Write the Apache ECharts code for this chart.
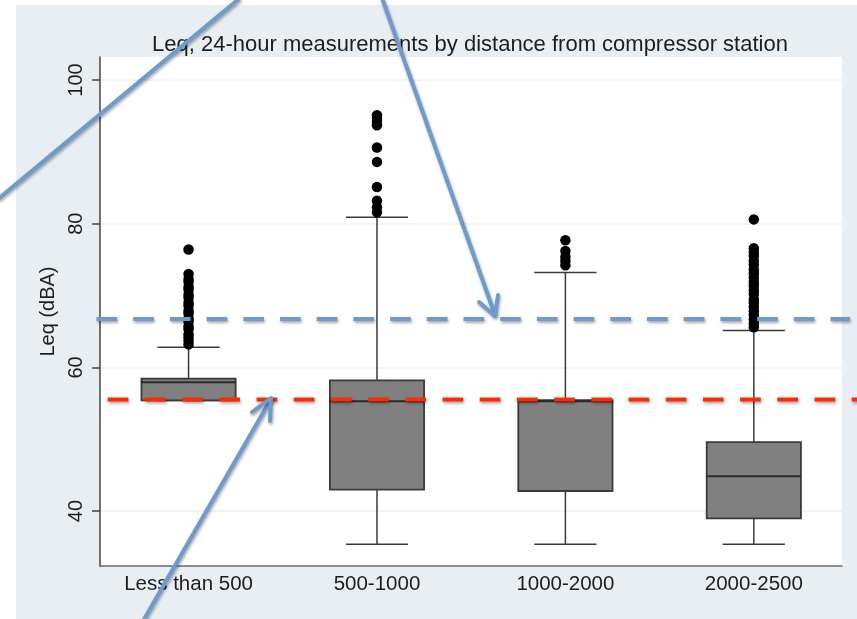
<!DOCTYPE html>
<html>
<head>
<meta charset="utf-8">
<script src="https://cdn.jsdelivr.net/npm/echarts@6/dist/echarts.min.js"></script>
<style>
  html, body { margin: 0; padding: 0; background: #ffffff; }
  #wrap { position: relative; width: 857px; height: 619px; overflow: hidden; }
  #bg { position: absolute; left: 16px; top: 5px; width: 841px; height: 614px; background: #e8eef1; }
  #chart { position: absolute; left: 0; top: 0; width: 857px; height: 619px; }
</style>
</head>
<body>
<div id="wrap"><div id="bg"></div><div id="chart"></div></div>
<script>
// ---- data ----
const categories = ['Less than 500', '500-1000', '1000-2000', '2000-2500'];
// [lower whisker, Q1, median, Q3, upper whisker]
const boxLess500   = [55.4, 55.4, 57.95, 58.45, 62.8];
const box500_1000  = [35.4, 43.0, 55.3, 58.2, 80.9];
const box1000_2000 = [35.4, 42.8, 55.3, 55.45, 73.2];
const box2000_2500 = [35.4, 39.0, 44.85, 49.6, 65.15];

const outLess500   = [76.4, 73.0, 72.3, 71.9, 71.2, 70.8, 70.1, 69.7, 69.0, 68.6, 67.9, 67.5, 66.8, 66.4, 65.7, 65.3, 64.6, 64.2, 63.7, 63.2];
const out500_1000  = [95.1, 94.7, 94.2, 93.7, 90.6, 88.6, 85.1, 83.2, 82.3, 81.6];
const out1000_2000 = [77.7, 76.2, 75.4, 74.8, 74.2];
const out2000_2500 = [80.6, 76.6, 76.0, 75.5, 74.8, 74.3, 73.6, 73.1, 72.5, 71.9, 71.4, 70.7, 70.2, 69.5, 69.0, 68.4, 67.8, 67.3, 66.7, 66.1, 65.6];

const yTicks = [40, 60, 80, 100];
const blueLevel = 66.75;
const redLevel = 55.55;

const titleText = 'Leq, 24-hour measurements by distance from compressor station';
const yName = 'Leq (dBA)';

// ---- build ----
const boxes = [boxLess500, box500_1000, box1000_2000, box2000_2500];
const outliers = [outLess500, out500_1000, out1000_2000, out2000_2500];
const boxData = boxes.map((b, i) => [i + 1].concat(b));
const outData = [];
outliers.forEach((arr, i) => arr.forEach(v => outData.push([i + 1, v])));

const FONT = '"Liberation Sans", Arial, Helvetica, sans-serif';
const BOX_W = 0.5, CAP_W = 0.33;
const LINE_C = '#3a3a3a';

const chart = echarts.init(document.getElementById('chart'), null, { renderer: 'canvas' });

const option = {
  backgroundColor: 'transparent',
  animation: false,
  title: {
    text: titleText,
    left: 465, top: 29, textAlign: 'center',
    textStyle: { fontFamily: FONT, fontSize: 22, fontWeight: 'normal', color: '#1e1e1e' }
  },
  grid: {
    left: 100, top: 57, right: 15, bottom: 53,
    show: true, backgroundColor: '#ffffff', borderWidth: 0
  },
  xAxis: {
    type: 'value', min: 0.53, max: 4.468,
    axisLine: { show: true, lineStyle: { color: '#6a6a6a', width: 1.5 } },
    axisTick: { show: false },
    splitLine: { show: false },
    axisLabel: {
      customValues: [1, 2, 3, 4],
      formatter: v => categories[Math.round(v) - 1] || '',
      fontFamily: FONT, fontSize: 20.5, color: '#1e1e1e', margin: 8
    }
  },
  yAxis: {
    type: 'value', min: 32.36, max: 103.2,
    name: yName, nameLocation: 'middle', nameGap: 36, nameRotate: 90,
    nameTextStyle: { fontFamily: FONT, fontSize: 20, color: '#1e1e1e' },
    axisLine: { show: true, lineStyle: { color: '#444', width: 1.5 } },
    axisTick: { show: true, length: 8, customValues: yTicks, lineStyle: { color: '#444', width: 1.5 } },
    axisLabel: { customValues: yTicks, rotate: 90, margin: 14, fontFamily: FONT, fontSize: 20, color: '#1e1e1e' },
    splitLine: { show: true, lineStyle: { color: '#edf1f3', width: 1.5 } }
  },
  series: [
    {
      type: 'custom',
      data: boxData,
      encode: { x: 0, y: [1, 2, 3, 4, 5] },
      z: 2,
      renderItem: function (params, api) {
        const x = api.value(0);
        const lo = api.value(1), q1 = api.value(2), md = api.value(3), q3 = api.value(4), hi = api.value(5);
        const bw = api.size([BOX_W, 0])[0];
        const cw = api.size([CAP_W, 0])[0];
        const pLo = api.coord([x, lo]), pQ1 = api.coord([x, q1]), pMd = api.coord([x, md]);
        const pQ3 = api.coord([x, q3]), pHi = api.coord([x, hi]);
        const cx = pLo[0];
        const ls = { stroke: LINE_C, lineWidth: 1.5 };
        return {
          type: 'group',
          children: [
            { type: 'line', shape: { x1: cx, y1: pQ3[1], x2: cx, y2: pHi[1] }, style: ls },
            { type: 'line', shape: { x1: cx, y1: pQ1[1], x2: cx, y2: pLo[1] }, style: ls },
            { type: 'line', shape: { x1: cx - cw / 2, y1: pHi[1], x2: cx + cw / 2, y2: pHi[1] }, style: ls },
            { type: 'line', shape: { x1: cx - cw / 2, y1: pLo[1], x2: cx + cw / 2, y2: pLo[1] }, style: ls },
            { type: 'rect', shape: { x: cx - bw / 2, y: pQ3[1], width: bw, height: pQ1[1] - pQ3[1] },
              style: { fill: '#808080', stroke: LINE_C, lineWidth: 1.8 } },
            { type: 'line', shape: { x1: cx - bw / 2, y1: pMd[1], x2: cx + bw / 2, y2: pMd[1] },
              style: { stroke: '#2a2a2a', lineWidth: 2 } }
          ]
        };
      }
    },
    {
      type: 'scatter',
      data: outData,
      symbol: 'circle', symbolSize: 10.5,
      itemStyle: { color: '#000000', opacity: 1 },
      z: 3
    }
  ]
};
chart.setOption(option);

// ---- annotation overlays ----
const yBlue = chart.convertToPixel({ yAxisIndex: 0 }, blueLevel);
const yRed = chart.convertToPixel({ yAxisIndex: 0 }, redLevel);
const ARROW_C = '#6b9bd0';
const shadow = { shadowBlur: 3, shadowColor: 'rgba(0,0,0,0.35)', shadowOffsetX: 1, shadowOffsetY: 2 };
chart.setOption({
  graphic: [
    { type: 'line', z: 50, shape: { x1: 96.5, y1: yBlue, x2: 850, y2: yBlue },
      style: Object.assign({ stroke: ARROW_C, lineWidth: 4, lineDash: [20.7, 16] }, shadow) },
    { type: 'line', z: 50, shape: { x1: 107.7, y1: yRed, x2: 870, y2: yRed },
      style: Object.assign({ stroke: '#ff2a00', lineWidth: 4, lineDash: [20.7, 16.5] }, shadow) },
    { type: 'line', z: 60, shape: { x1: -2, y1: 199, x2: 240, y2: -2 },
      style: Object.assign({ stroke: ARROW_C, lineWidth: 4 }, shadow) },
    { type: 'line', z: 60, shape: { x1: 382, y1: -2, x2: 495, y2: 315 },
      style: Object.assign({ stroke: ARROW_C, lineWidth: 4 }, shadow) },
    { type: 'polyline', z: 60, shape: { points: [[479, 302], [495, 316], [498, 295]] },
      style: Object.assign({ stroke: ARROW_C, lineWidth: 4, fill: null, lineJoin: 'round', lineCap: 'round' }, shadow) },
    { type: 'line', z: 60, shape: { x1: 143, y1: 621, x2: 271, y2: 399 },
      style: Object.assign({ stroke: ARROW_C, lineWidth: 4 }, shadow) },
    { type: 'polyline', z: 60, shape: { points: [[252, 412], [271, 398], [270, 421]] },
      style: Object.assign({ stroke: ARROW_C, lineWidth: 4, fill: null, lineJoin: 'round', lineCap: 'round' }, shadow) }
  ]
});
</script>
</body>
</html>
